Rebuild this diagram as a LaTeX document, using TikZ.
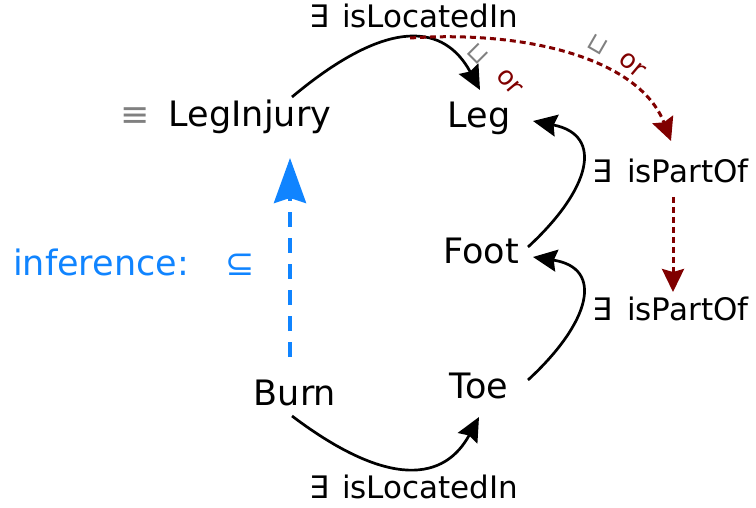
\documentclass[tikz,border=0pt]{standalone}
\usepackage{fontspec}
\setmainfont{DejaVu Sans}
\usetikzlibrary{arrows.meta}
\definecolor{infblue}{RGB}{16,132,255}
\definecolor{orred}{RGB}{128,0,0}
\begin{document}
\begin{tikzpicture}[x=1pt,y=-1pt,
  lbl/.style={font=\fontsize{35}{40}\selectfont, inner sep=0pt, anchor=base},
  sm/.style={font=\fontsize{31}{36}\selectfont, inner sep=0pt, anchor=base west},
  conn/.style={line width=2.7pt, -{Stealth[length=24pt,width=22pt,inset=3pt]}},
  reddash/.style={orred, line width=3pt, dash pattern=on 6pt off 4pt,
    -{Stealth[length=23pt,width=22pt,inset=3pt]}},
  infarrow/.style={infblue, line width=4pt, dash pattern=on 15pt off 11pt,
    -{Stealth[length=45pt,width=32pt,inset=5pt]}},
  cupl/.style={gray, font=\fontsize{25}{25}\selectfont, inner sep=0pt},
  orl/.style={orred, font=\fontsize{26}{28}\selectfont, inner sep=0pt}]
\useasboundingbox (0,0) rectangle (756,508);
% nodes
\node[lbl, gray] (equiv) at (135,127) {≡};
\node[lbl] (LegInjury) at (250,127) {LegInjury};
\node[lbl] (Leg) at (479,128) {Leg};
\node[lbl] (Foot) at (481,263) {Foot};
\node[lbl] (Toe) at (479,398) {Toe};
\node[lbl] (Burn) at (295,405) {Burn};
\node[sm] (exTop) at (309,28) {∃};
\node[sm] (locTop) at (342,28) {isLocatedIn};
\node[sm] (exBot) at (309,498) {∃};
\node[sm] (locBot) at (342,498) {isLocatedIn};
\node[sm] (exP1) at (592,183) {∃};
\node[sm] (part1) at (627,183) {isPartOf};
\node[sm] (exP2) at (592,320) {∃};
\node[sm] (part2) at (627,320) {isPartOf};
\node[lbl, anchor=base west, infblue] (inf) at (13,276) {inference:};
\node[lbl, anchor=base west, infblue] (sub) at (225,276) {⊆};
\node[cupl, rotate=-45] (cup1) at (478,54) {⊔};
\node[orl, rotate=-50] (or1) at (509,82) {or};
\node[cupl, rotate=-30] (cup2) at (598,45) {⊔};
\node[orl, rotate=-40] (or2) at (632,65) {or};
% connector end points
\coordinate (t0) at (292,97);
\coordinate (t1) at (480,90);
\coordinate (r0) at (410,38);
\coordinate (r1) at (671,141);
\coordinate (v0) at (673,197);
\coordinate (v1) at (673,292);
\coordinate (f0) at (528,247);
\coordinate (f1) at (533,121);
\coordinate (g0) at (528,380);
\coordinate (g1) at (533,257);
\coordinate (b0) at (292,416);
\coordinate (b1) at (479,417);
\coordinate (i0) at (290,357);
\coordinate (i1) at (290,158);
% connectors
\draw[conn] (t0) .. controls (390,15) and (445,25) .. (t1);
\draw[reddash] (r0) .. controls (530,30) and (640,60) .. (r1);
\draw[reddash] (v0) -- (v1);
\draw[conn] (f0) .. controls (590,190) and (605,135) .. (f1);
\draw[conn] (g0) .. controls (590,323) and (605,268) .. (g1);
\draw[conn] (b0) .. controls (390,490) and (445,480) .. (b1);
\draw[infarrow] (i0) -- (i1);
\end{tikzpicture}
\end{document}
